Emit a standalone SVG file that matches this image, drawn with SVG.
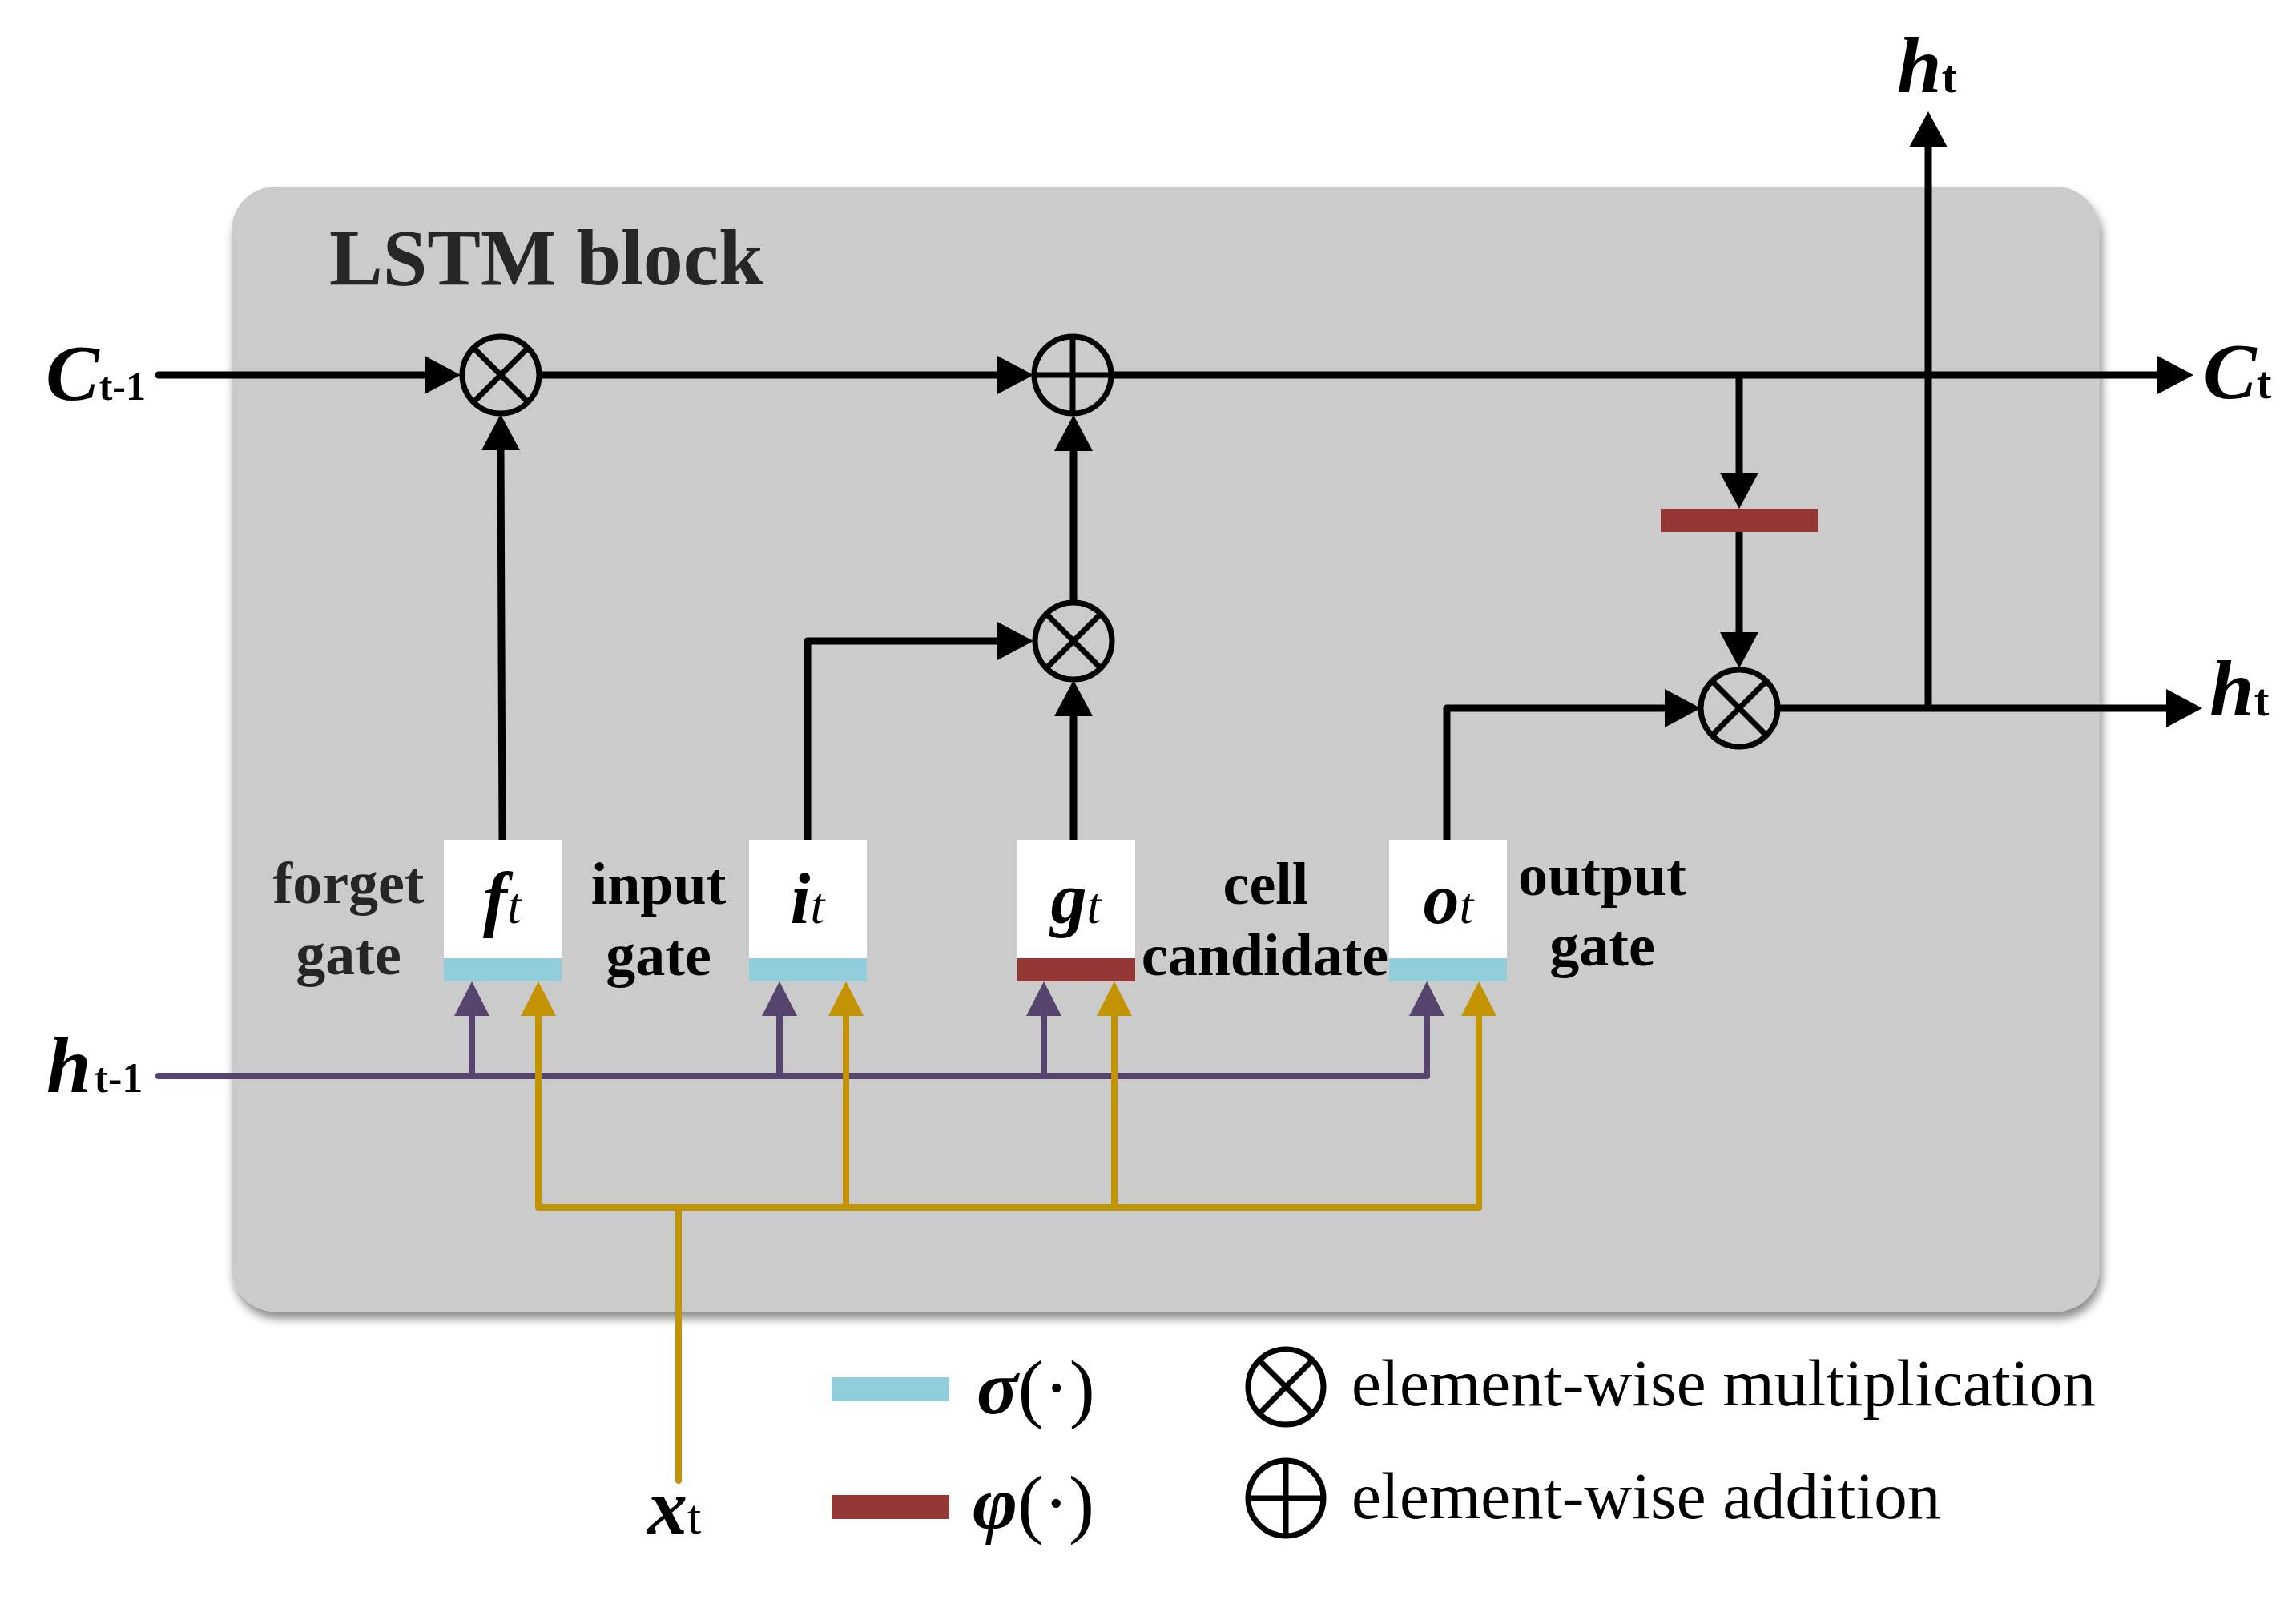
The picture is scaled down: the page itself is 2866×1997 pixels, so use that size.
<svg xmlns="http://www.w3.org/2000/svg" width="2866" height="1997" viewBox="0 0 2866 1997">
<defs>
<filter id="sh" x="-5%" y="-5%" width="110%" height="115%">
<feDropShadow dx="3" dy="9" stdDeviation="6" flood-color="#000" flood-opacity="0.45"/>
</filter>
<marker id="ab" markerUnits="userSpaceOnUse" markerWidth="46" markerHeight="48" viewBox="0 0 46 48" refX="0" refY="24" orient="auto"><path d="M0,0 L45,24 L0,48 z" fill="#000"/></marker>
<marker id="ap" markerUnits="userSpaceOnUse" markerWidth="44" markerHeight="44" viewBox="0 0 44 44" refX="0" refY="22" orient="auto"><path d="M0,0 L43,22 L0,44 z" fill="#56446e"/></marker>
<marker id="ag" markerUnits="userSpaceOnUse" markerWidth="44" markerHeight="44" viewBox="0 0 44 44" refX="0" refY="22" orient="auto"><path d="M0,0 L43,22 L0,44 z" fill="#c49300"/></marker>
<style>
.t{font-family:"Liberation Serif","Times New Roman",serif;}
.bk{stroke:#000;stroke-width:9;fill:none;}
.pu{stroke:#56446e;stroke-width:8;fill:none;stroke-linejoin:round;stroke-linecap:round;}
.go{stroke:#c49300;stroke-width:8;fill:none;stroke-linejoin:round;stroke-linecap:round;}
.op{stroke:#000;stroke-width:7;fill:none;}
.lbl{font-family:"Liberation Serif","Times New Roman",serif;font-weight:bold;font-size:74px;text-anchor:middle;}
.gl{font-family:"Liberation Serif","Times New Roman",serif;font-size:90px;font-weight:bold;font-style:italic;text-anchor:middle;}
.gs{font-size:64px;font-weight:normal;}
.io{font-family:"Liberation Serif","Times New Roman",serif;font-weight:bold;font-style:italic;font-size:100px;}
.sub{font-style:normal;font-weight:bold;}
</style>
</defs>
<rect width="2866" height="1997" fill="#fff"/>
<g id="lstm-block">
<rect x="289" y="233" width="2332" height="1404" rx="55" fill="#cbcbcb" filter="url(#sh)"/>
<text class="t" x="411" y="355" font-size="100" font-weight="bold" fill="#262626">LSTM block</text>
</g>

<g id="connectors">
<path class="bk" stroke-linecap="round" d="M198,468 H530" marker-end="url(#ab)"/>
<path class="bk" d="M674,468 H1245" marker-end="url(#ab)"/>
<path class="bk" d="M1388,468 H2693" marker-end="url(#ab)"/>
<path class="bk" d="M2171,468 V590" marker-end="url(#ab)"/>
<path class="bk" stroke-linecap="round" d="M2171,664 V789" marker-end="url(#ab)"/>
<path class="bk" d="M2220,884 H2704" marker-end="url(#ab)"/>
<path class="bk" d="M2407,884 V184" marker-end="url(#ab)"/>
<path class="bk" stroke-linecap="round" d="M627,1048 L625,562" marker-end="url(#ab)"/>
<path class="bk" stroke-linecap="round" stroke-linejoin="round" d="M1008,1048 V800 H1245" marker-end="url(#ab)"/>
<path class="bk" stroke-linecap="round" d="M1340,1048 V894" marker-end="url(#ab)"/>
<path class="bk" d="M1340,750 V563" marker-end="url(#ab)"/>
<path class="bk" stroke-linecap="round" stroke-linejoin="round" d="M1806,1048 V884 H2078" marker-end="url(#ab)"/>

<path class="pu" d="M198,1343 H1781 V1268" marker-end="url(#ap)"/>
<path class="pu" stroke-linecap="butt" d="M589,1343 V1268" marker-end="url(#ap)"/>
<path class="pu" stroke-linecap="butt" d="M973,1343 V1268" marker-end="url(#ap)"/>
<path class="pu" stroke-linecap="butt" d="M1303,1343 V1268" marker-end="url(#ap)"/>

<path class="go" d="M847,1848 V1507"/>
<path class="go" d="M1846,1507 H672 V1268" marker-end="url(#ag)"/>
<path class="go" stroke-linecap="butt" d="M1056,1507 V1268" marker-end="url(#ag)"/>
<path class="go" stroke-linecap="butt" d="M1391,1507 V1268" marker-end="url(#ag)"/>
<path class="go" stroke-linecap="butt" d="M1846,1507 V1268" marker-end="url(#ag)"/>
</g>

<g id="mult-forget">
<circle class="op" cx="625" cy="468" r="48"/>
<path class="op" d="M591,434 L659,502 M659,434 L591,502"/>
</g>
<g id="add-cell">
<circle class="op" cx="1339" cy="468" r="48"/>
<path class="op" d="M1291,468 H1387 M1339,420 V516"/>
</g>
<g id="mult-input">
<circle class="op" cx="1340" cy="800" r="48"/>
<path class="op" d="M1306,766 L1374,834 M1374,766 L1306,834"/>
</g>
<g id="mult-output">
<circle class="op" cx="2171" cy="884" r="48"/>
<path class="op" d="M2137,850 L2205,918 M2205,850 L2137,918"/>
</g>
<g id="tanh-cell">
<rect x="2073" y="635" width="196" height="29" fill="#943634"/>
</g>

<g id="gate-f">
<rect x="554" y="1048" width="147" height="148" fill="#fff"/>
<rect x="554" y="1196" width="147" height="29" fill="#92cddc"/>
<text class="gl" x="627" y="1152">f<tspan class="gs">t</tspan></text>
<text class="lbl" x="435" y="1127" fill="#262626">forget</text>
<text class="lbl" x="435" y="1216" fill="#262626">gate</text>
</g>
<g id="gate-i">
<rect x="935" y="1048" width="147" height="148" fill="#fff"/>
<rect x="935" y="1196" width="147" height="29" fill="#92cddc"/>
<text class="gl" x="1008" y="1152">i<tspan class="gs">t</tspan></text>
<text class="lbl" x="822" y="1128">input</text>
<text class="lbl" x="822" y="1217">gate</text>
</g>
<g id="gate-g">
<rect x="1270" y="1048" width="147" height="148" fill="#fff"/>
<rect x="1270" y="1196" width="147" height="29" fill="#943634"/>
<text class="gl" x="1343" y="1152">g<tspan class="gs">t</tspan></text>
<text class="lbl" x="1580" y="1128">cell</text>
<text class="lbl" x="1579" y="1217">candidate</text>
</g>
<g id="gate-o">
<rect x="1734" y="1048" width="147" height="148" fill="#fff"/>
<rect x="1734" y="1196" width="147" height="29" fill="#92cddc"/>
<text class="gl" x="1808" y="1152">o<tspan class="gs">t</tspan></text>
<text class="lbl" x="2000" y="1117">output</text>
<text class="lbl" x="2000" y="1205">gate</text>
</g>

<g id="io-labels">
<text class="io" x="57" y="499">C<tspan class="sub" style="font-size:50px">t-1</tspan></text>
<text class="io" x="58" y="1363">h<tspan class="sub" dx="4" style="font-size:52px">t-1</tspan></text>
<text class="io" x="2750" y="497">C<tspan class="sub" style="font-size:56px">t</tspan></text>
<text class="io" x="2758" y="893">h<tspan class="sub" style="font-size:56px">t</tspan></text>
<text class="io" x="2368" y="115">h<tspan class="sub" style="font-size:56px">t</tspan></text>
<text class="io" x="808" y="1914">x<tspan class="sub" style="font-size:62px;font-weight:normal">t</tspan></text>
</g>

<g id="legend">
<rect x="1038" y="1719" width="147" height="30" fill="#92cddc"/>
<rect x="1038" y="1866" width="147" height="30" fill="#943634"/>
<text class="t" x="1219" y="1764" font-size="96"><tspan font-style="italic" font-weight="bold">σ</tspan>(·)</text>
<text class="t" x="1214" y="1908" font-size="96"><tspan font-style="italic" font-weight="bold">φ</tspan>(·)</text>
<circle class="op" cx="1605" cy="1731" r="47"/>
<path class="op" d="M1572,1698 L1638,1764 M1638,1698 L1572,1764"/>
<circle class="op" cx="1605" cy="1870" r="47"/>
<path class="op" d="M1558,1870 H1652 M1605,1823 V1917"/>
<text class="t" x="1687" y="1754" font-size="83">element-wise multiplication</text>
<text class="t" x="1687" y="1895" font-size="83">element-wise addition</text>
</g>
</svg>
